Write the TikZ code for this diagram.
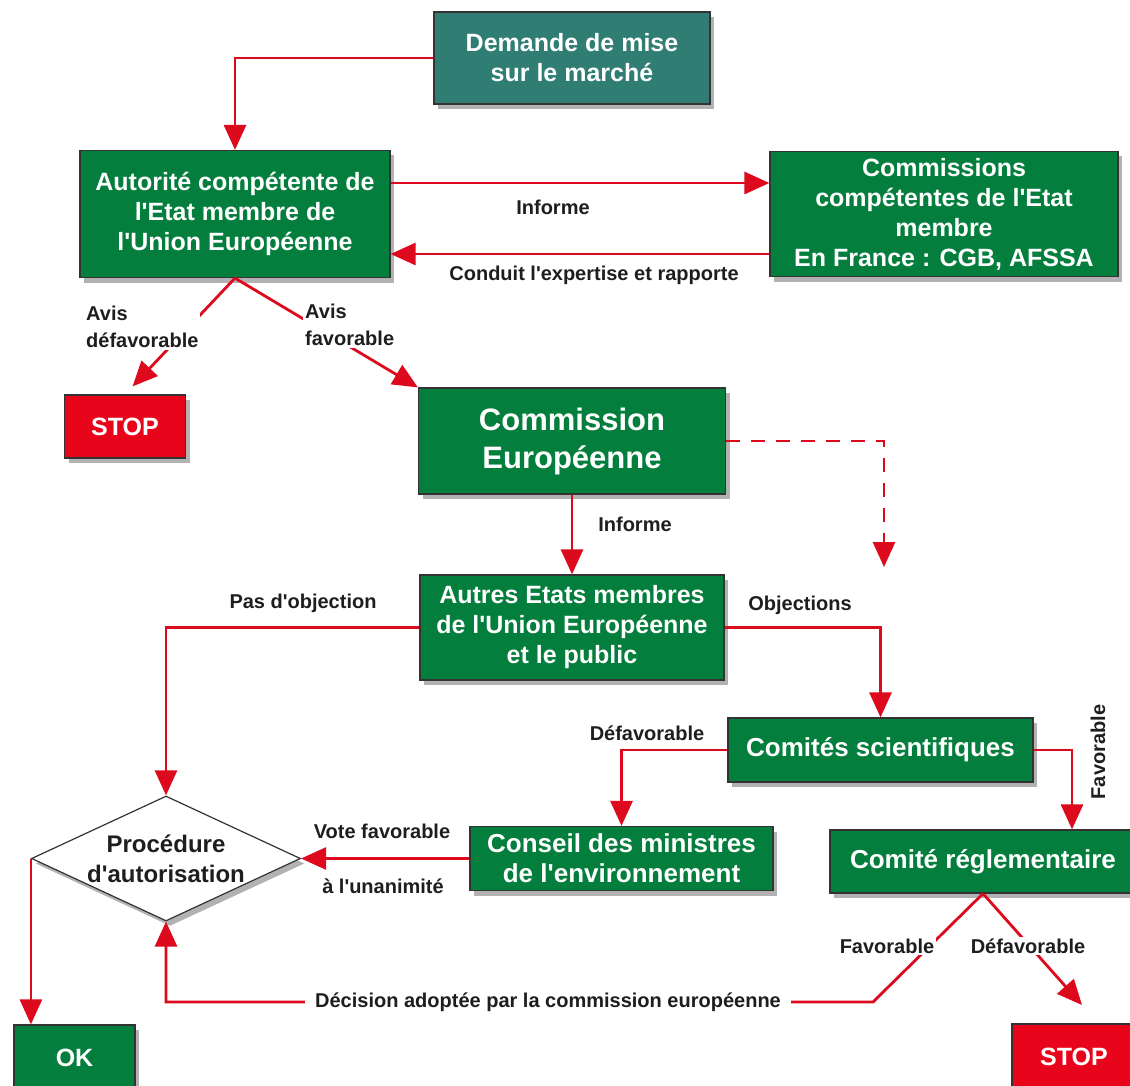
\documentclass[tikz,border=0pt]{standalone}
\usepackage{fontspec}
\setmainfont{Liberation Sans}
\usetikzlibrary{arrows.meta,shapes.geometric,shadows}
\definecolor{gfill}{HTML}{037E3C}
\definecolor{tfill}{HTML}{307D74}
\definecolor{rline}{HTML}{DD0A1E}
\definecolor{sfill}{HTML}{E8051C}
\definecolor{ltxt}{HTML}{1E1E1E}
\newcommand\apo{\textquotesingle}
\begin{document}
\begin{tikzpicture}[x=1pt,y=-1pt,
  shad/.style={drop shadow={shadow xshift=4pt,shadow yshift=-5pt,fill=black,opacity=0.3}},
  box/.style={shad,draw=black!80,line width=1.2pt,fill=gfill,text=white,align=center,inner sep=0pt,
    font=\bfseries\fontsize{25}{30}\selectfont},
  tealbox/.style={box,fill=tfill},
  stopbox/.style={box,fill=sfill},
  lbl/.style={fill=white,text=ltxt,inner sep=2pt,font=\bfseries\fontsize{20}{27}\selectfont},
  arr/.style={draw=rline,line width=2.8pt,-{Triangle[length=25pt,width=22pt]}}]
\useasboundingbox (0,0) rectangle (1130,1086);
\fill[white] (0,0) rectangle (1130,1086);

% nodes
\node[tealbox,minimum width=276,minimum height=92] (dem) at (572,58) {Demande de mise\\sur le marché};
\node[box,minimum width=310,minimum height=127] (aut) at (235,214) {Autorité compétente de\\l\apo Etat membre de\\l\apo Union Européenne};
\node[box,minimum width=348,minimum height=125] (com) at (944,214) {Commissions\\compétentes de l\apo Etat\\membre\\En France : CGB, AFSSA};
\node[stopbox,minimum width=121,minimum height=63] (stop1) at (125,426.5) {STOP};
\node[box,minimum width=307,minimum height=106,font=\bfseries\fontsize{31}{38}\selectfont] (ce) at (572,441) {Commission\\Européenne};
\node[box,minimum width=304,minimum height=105] (autres) at (572,627.5) {Autres Etats membres\\de l\apo Union Européenne\\et le public};
\node[box,minimum width=305,minimum height=64,font=\bfseries\fontsize{26}{30}\selectfont] (cs) at (880.5,750) {Comités scientifiques};
\node[box,minimum width=303,minimum height=64,font=\bfseries\fontsize{26}{30}\selectfont] (cons) at (621.5,858.5) {Conseil des ministres\\de l\apo environnement};
\node[box,minimum width=306,minimum height=63,font=\bfseries\fontsize{26}{30}\selectfont] (creg) at (983,861.5) {Comité réglementaire};
\node[diamond,shad,draw=black!80,line width=1.2pt,fill=white,minimum width=269,minimum height=125,inner sep=0pt] (proc) at (166,858.5) {};
\node[text=ltxt,align=center,font=\bfseries\fontsize{24}{30}\selectfont] (proct) at (proc.center) {Procédure\\d\apo autorisation};
\node[box,minimum width=121,minimum height=66] (ok) at (74.5,1058) {OK};
\node[stopbox,minimum width=124,minimum height=66] (stop2) at (1074,1057) {STOP};

\coordinate (dend) at (884,567);
\coordinate (dec) at (873,1002);
\coordinate (d2) at (1082,1005);

% connectors
\draw[arr] (dem.west) -| (aut.north);
\draw[arr] ([yshift=31pt]aut.east) -- ([yshift=31pt]com.west);
\draw[arr] ([yshift=-40pt]com.west) -- ([yshift=-40pt]aut.east);
\draw[arr,shorten >=11pt] (aut.south) -- (stop1.north);
\draw[arr] (aut.south) -- (ce.north west);
\draw[arr] (ce.south) -- (autres.north);
\draw[arr,dash pattern=on 14pt off 11pt] (ce.east) -| (dend);
\draw[arr] (autres.west) -| (proc.north);
\draw[arr] (autres.east) -| (cs.north);
\draw[arr] (cs.west) -| (cons.north);
\draw[arr] (cs.east) -| ([xshift=89pt]creg.north);
\draw[arr] (cons.west) -- (proc.east);
\draw[arr] (proc.west) -- (proc.west |- ok.north);
\draw[arr] (creg.south) -- (dec) -| (proc.south);
\draw[arr] (creg.south) -- (d2);

% labels
\node[lbl] (l1) at (553,207) {Informe};
\node[lbl] (l2) at (594,275) {Conduit l\apo expertise et rapporte};
\node[lbl,anchor=west,align=left] (l3) at (84,327) {Avis\\défavorable};
\node[lbl,anchor=west,align=left] (l4) at (303,325) {Avis\\favorable};
\node[lbl] (l5) at (635,524) {Informe};
\node[lbl] (l6) at (303,603) {Pas d\apo objection};
\node[lbl] (l7) at (800,605) {Objections};
\node[lbl] (l8) at (647,733) {Défavorable};
\node[lbl,rotate=90] (l9) at (1098,752) {Favorable};
\node[lbl] (l10) at (382,831) {Vote favorable};
\node[lbl] (l11) at (383,886) {à l\apo unanimité};
\node[lbl,inner xsep=10pt] (l12) at (548,1002) {Décision adoptée par la commission européenne};
\node[lbl] (l13) at (887,946) {Favorable};
\node[lbl] (l14) at (1028,946) {Défavorable};
\end{tikzpicture}
\end{document}
